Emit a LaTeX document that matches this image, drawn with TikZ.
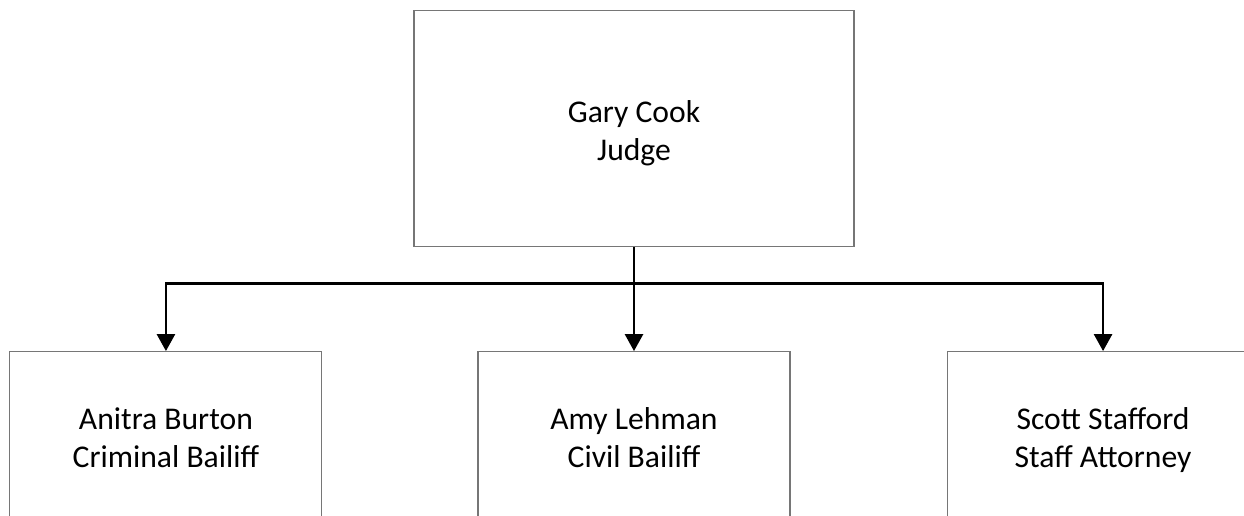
\documentclass[tikz,border=0pt]{standalone}
\usepackage{fontspec}
\setmainfont{Carlito}
\usetikzlibrary{positioning,arrows.meta}

\definecolor{boxgray}{RGB}{118,118,118}

% extra room above the first line of a box
\newcommand{\namegap}{\rule{0pt}{21pt}}

\tikzset{
  post/.style={draw=boxgray, line width=0.6pt, minimum width=8.8cm, minimum height=4.73cm,
    align=center, inner sep=0pt, font=\fontsize{18}{21.6}\selectfont},
  staffpost/.style={post, minimum width=6.24cm, minimum height=3.36cm},
  link/.style={line width=1.5pt, -{Triangle[width=0.36cm,length=0.34cm]}}
}

\begin{document}
\begin{tikzpicture}

    \useasboundingbox (0,0) rectangle (24.88,-10.3);

    % top of the chart
    \node[post] (judge) at (12.68,-2.566) {\namegap Gary Cook\\Judge\strut};

    % second row
    \node[staffpost, below=2.08cm of judge] (civil) {\namegap Amy Lehman\\Civil Bailiff\strut};
    \node[staffpost, left=3.1cm of civil] (crim) {\namegap Anitra Burton\\Criminal Bailiff\strut};
    \node[staffpost, right=3.12cm of civil] (staff) {\namegap Scott Stafford\\Staff Attorney\strut};

    % Arrows
    \draw[link] (judge.south) -- ++(0,-0.73) -| (crim.north);
    \draw[link] (judge.south) -- (civil.north);
    \draw[link] (judge.south) -- ++(0,-0.73) -| (staff.north);

\end{tikzpicture}
\end{document}
